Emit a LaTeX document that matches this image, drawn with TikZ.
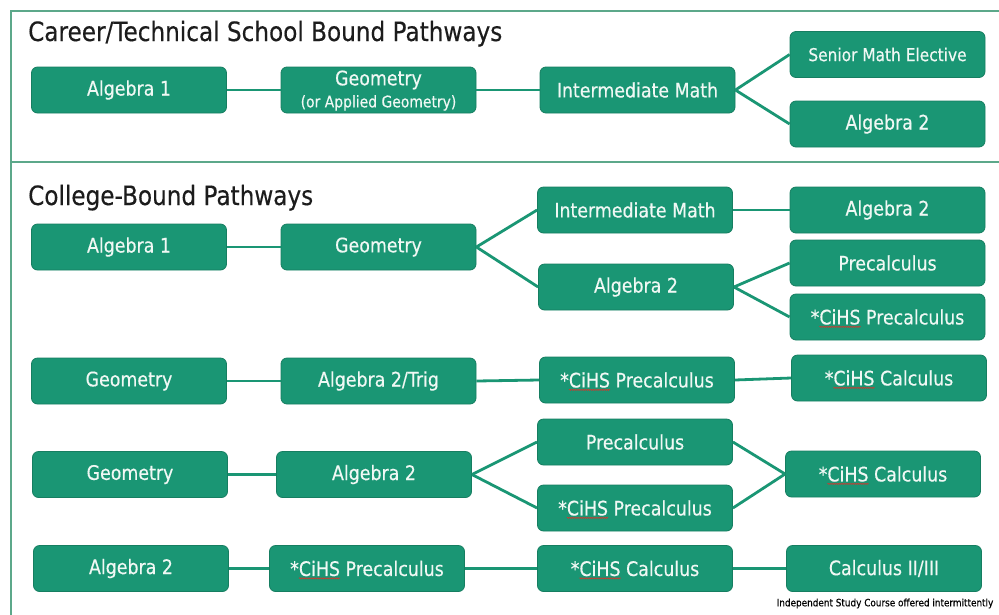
\documentclass[tikz,border=0pt]{standalone}
\usepackage{fontspec}
\setmainfont{DejaVu Sans}
\newfontfamily\boxfont[FakeStretch=0.87,FakeBold=0.35]{DejaVu Sans}
\usetikzlibrary{decorations.pathmorphing}
\definecolor{boxgreen}{RGB}{26,150,116}
\definecolor{boxedge}{RGB}{22,126,97}
\definecolor{framegreen}{RGB}{92,168,138}
\definecolor{titlegray}{RGB}{28,28,28}
\definecolor{boxtext}{RGB}{240,248,244}
\definecolor{wavered}{RGB}{200,60,50}
\newsavebox\cihsbox
\newdimen\cihswd
\newcommand\ciHS{\sbox\cihsbox{CiHS}\cihswd=\wd\cihsbox\usebox\cihsbox\tikz[overlay,baseline=0pt]\draw[fill=none,sharp corners,draw=wavered,line width=0.6pt,decorate,decoration={snake,amplitude=0.55pt,segment length=1.9pt}] (-\cihswd,-2.4pt) -- (0pt,-2.4pt);}
\tikzset{
  pbox/.style={rectangle, rounded corners=6pt, fill=boxgreen, draw=boxedge, line width=0.8pt,
    minimum width=195pt, minimum height=46pt, inner sep=0pt, text=boxtext,
    font=\boxfont\fontsize{20}{22}\selectfont, align=center},
  link/.style={draw=boxgreen, line width=2.8pt},
  frameline/.style={draw=framegreen, line width=1.8pt},
  ptitle/.style={anchor=base west, inner sep=0pt, text=titlegray, font=\boxfont\fontsize{26.6}{30}\selectfont},
  pnote/.style={inner sep=0pt, text=black, font=\boxfont\fontsize{10.2}{11}\selectfont}
}
\begin{document}
\begin{tikzpicture}[x=1pt,y=-1pt]
\useasboundingbox (0,0) rectangle (999,614);
% frame
\draw[frameline] (1001,10.7) -- (10.7,10.7) -- (10.7,616);
\draw[frameline] (10.7,161.7) -- (1001,161.7);
% titles
\node[ptitle] (t1) at (28,41) {Career/Technical School Bound Pathways};
\node[ptitle] (t2) at (28,205) {College-Bound Pathways};
% career row
\node[pbox] (c1) at (129,90) {Algebra 1};
\node[pbox] (c2) at (378.5,90) {\raisebox{0pt}[16pt][0pt]{Geometry}\\[0pt]{\fontsize{16}{17}\selectfont(or Applied Geometry)}};
\node[pbox] (c3) at (637.5,90) {Intermediate Math};
\node[pbox] (c4) at (887.5,54.5) {\fontsize{17.7}{20}\selectfont Senior Math Elective};
\node[pbox] (c5) at (887.5,124) {Algebra 2};
% college row 1
\node[pbox] (a1) at (129,247) {Algebra 1};
\node[pbox] (a2) at (378.5,247) {Geometry};
\node[pbox] (a3) at (635,210) {Intermediate Math};
\node[pbox] (a4) at (636,287) {Algebra 2};
\node[pbox] (a5) at (887.5,210) {Algebra 2};
\node[pbox] (a6) at (887.5,263) {Precalculus};
\node[pbox] (a7) at (887.5,317) {*\ciHS{} Precalculus};
% row 2
\node[pbox] (b1) at (129,381) {Geometry};
\node[pbox] (b2) at (378.5,381) {Algebra 2/Trig};
\node[pbox] (b3) at (637,380) {*\ciHS{} Precalculus};
\node[pbox] (b4) at (889,378) {*\ciHS{} Calculus};
% row 3
\node[pbox] (d1) at (130,474.5) {Geometry};
\node[pbox] (d2) at (374,474.5) {Algebra 2};
\node[pbox] (d3) at (635,442) {Precalculus};
\node[pbox] (d4) at (635,508) {*\ciHS{} Precalculus};
\node[pbox] (d5) at (883,474) {*\ciHS{} Calculus};
% row 4
\node[pbox] (e1) at (131,568.5) {Algebra 2};
\node[pbox] (e2) at (367,568.5) {*\ciHS{} Precalculus};
\node[pbox] (e3) at (635,568.5) {*\ciHS{} Calculus};
\node[pbox] (e4) at (884,568.5) {Calculus II/III};
\node[pnote] (n1) at (885,603.5) {Independent Study Course offered intermittently};
% links
\draw[link] (c1.east) -- (c2.west);
\draw[link] (c2.east) -- (c3.west);
\draw[link] (c3.east) -- (c4.west);
\draw[link] (c3.east) -- (c5.west);
\draw[link] (a1.east) -- (a2.west);
\draw[link] (a2.east) -- (a3.west);
\draw[link] (a2.east) -- (a4.west);
\draw[link] (a3.east) -- (a5.west);
\draw[link] (a4.east) -- (a6.west);
\draw[link] (a4.east) -- (a7.west);
\draw[link] (b1.east) -- (b2.west);
\draw[link] (b2.east) -- (b3.west);
\draw[link] (b3.east) -- (b4.west);
\draw[link] (d1.east) -- (d2.west);
\draw[link] (d2.east) -- (d3.west);
\draw[link] (d2.east) -- (d4.west);
\draw[link] (d3.east) -- (d5.west);
\draw[link] (d4.east) -- (d5.west);
\draw[link] (e1.east) -- (e2.west);
\draw[link] (e2.east) -- (e3.west);
\draw[link] (e3.east) -- (e4.west);
\end{tikzpicture}
\end{document}
